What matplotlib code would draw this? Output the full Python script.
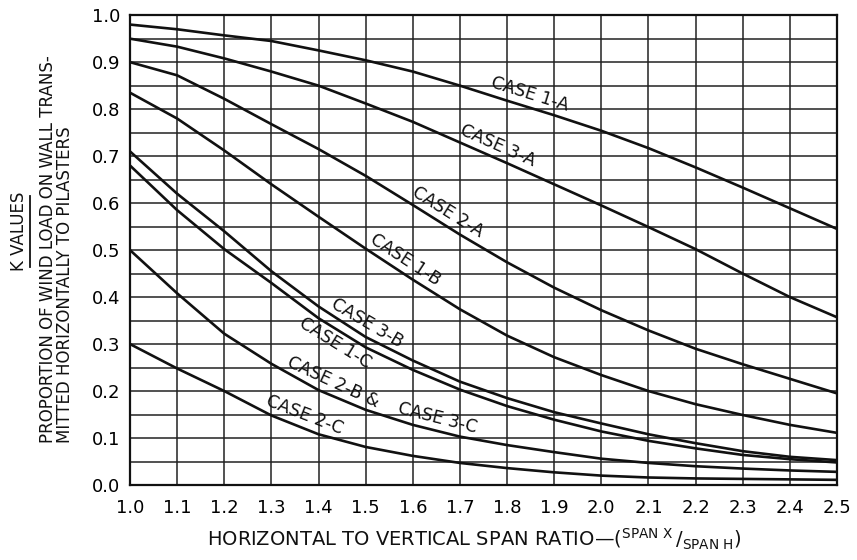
import numpy as np
import matplotlib
matplotlib.use("Agg")
import matplotlib.pyplot as plt

# span ratio (x) and K values
ratio = [1.0, 1.1, 1.2, 1.3, 1.4, 1.5, 1.6, 1.7, 1.8, 1.9, 2.0, 2.1, 2.2, 2.3, 2.4, 2.5]

case_1a = [0.980, 0.970, 0.957, 0.945, 0.925, 0.904, 0.880, 0.850, 0.818, 0.787, 0.754, 0.717, 0.676, 0.633, 0.589, 0.545]
case_3a = [0.950, 0.933, 0.908, 0.880, 0.850, 0.812, 0.773, 0.729, 0.685, 0.640, 0.595, 0.549, 0.502, 0.450, 0.400, 0.357]
case_2a = [0.900, 0.872, 0.822, 0.768, 0.715, 0.658, 0.596, 0.533, 0.474, 0.420, 0.372, 0.329, 0.290, 0.257, 0.226, 0.195]
case_1b = [0.835, 0.780, 0.712, 0.640, 0.571, 0.503, 0.437, 0.374, 0.318, 0.272, 0.234, 0.200, 0.172, 0.149, 0.128, 0.111]
case_3b = [0.710, 0.620, 0.540, 0.455, 0.380, 0.315, 0.265, 0.220, 0.185, 0.155, 0.131, 0.108, 0.089, 0.072, 0.060, 0.053]
case_1c = [0.680, 0.585, 0.502, 0.430, 0.355, 0.293, 0.245, 0.203, 0.168, 0.139, 0.114, 0.094, 0.078, 0.064, 0.055, 0.048]
case_2b_3c = [0.500, 0.408, 0.322, 0.258, 0.202, 0.160, 0.128, 0.103, 0.085, 0.070, 0.056, 0.047, 0.040, 0.035, 0.031, 0.028]
case_2c = [0.300, 0.248, 0.200, 0.148, 0.108, 0.081, 0.062, 0.047, 0.036, 0.027, 0.020, 0.016, 0.014, 0.013, 0.012, 0.011]

x_ticks = ["1.0", "1.1", "1.2", "1.3", "1.4", "1.5", "1.6", "1.7", "1.8", "1.9",
           "2.0", "2.1", "2.2", "2.3", "2.4", "2.5"]
y_ticks = ["0.0", "0.1", "0.2", "0.3", "0.4", "0.5", "0.6", "0.7", "0.8", "0.9", "1.0"]

# label text, curve, x position along the curve, side (+1 above, -1 below)
labels = [
    ("CASE 1-A", case_1a, 1.84, 1),
    ("CASE 3-A", case_3a, 1.77, 1),
    ("CASE 2-A", case_2a, 1.66, 1),
    ("CASE 1-B", case_1b, 1.57, 1),
    ("CASE 3-B", case_3b, 1.49, 1),
    ("CASE 1-C", case_1c, 1.45, -1),
    ("CASE 2-B &", case_2b_3c, 1.42, 1),
    ("CASE 3-C", case_2b_3c, 1.645, 1),
    ("CASE 2-C", case_2c, 1.36, 1),
]

INK = "#111111"

fig = plt.figure(figsize=(8.57, 5.6), dpi=100)
ax = fig.add_axes([0.1517, 0.1339, 0.825, 0.839])

for ys in [case_1a, case_3a, case_2a, case_1b, case_3b, case_1c, case_2b_3c, case_2c]:
    ax.plot(ratio, ys, color=INK, linewidth=1.9, solid_joinstyle="round", zorder=3)

ax.set_xlim(1.0, 2.5)
ax.set_ylim(0.0, 1.0)
ax.set_xticks(np.arange(len(x_ticks)) * 0.1 + 1.0)
ax.set_xticklabels(x_ticks, fontsize=13)
ax.set_yticks(np.arange(len(y_ticks)) * 0.1)
ax.set_yticklabels(y_ticks, fontsize=13)
ax.set_yticks(np.arange(0.05, 1.0, 0.1), minor=True)
ax.tick_params(which="both", length=0)
ax.tick_params(axis="x", pad=10)
ax.tick_params(axis="y", pad=7)
ax.grid(which="major", color="#222222", linewidth=1.1)
ax.grid(which="minor", axis="y", color="#222222", linewidth=1.1)
for s in ax.spines.values():
    s.set_linewidth(1.6)
    s.set_color(INK)

fig.canvas.draw()
for text, ys, xc, side in labels:
    yc = np.interp(xc, ratio, ys)
    p0 = ax.transData.transform((xc - 0.05, np.interp(xc - 0.05, ratio, ys)))
    p1 = ax.transData.transform((xc + 0.05, np.interp(xc + 0.05, ratio, ys)))
    ang = np.degrees(np.arctan2(p1[1] - p0[1], p1[0] - p0[0]))
    th = np.radians(ang)
    gap = 2.5 * side
    ax.annotate(text, (xc, yc), xytext=(-np.sin(th) * gap, np.cos(th) * gap),
                textcoords="offset points", rotation=ang, rotation_mode="anchor",
                ha="center", va="bottom" if side > 0 else "top",
                fontsize=12.5, color=INK, zorder=4)

# axis titles
fig.text(0.553, 0.036,
         "HORIZONTAL TO VERTICAL SPAN RATIO\u2014("
         + r"$^{\mathrm{SPAN\ X}}\,/_{\mathrm{SPAN\ H}}$" + ")",
         ha="center", va="center", fontsize=14, color=INK)

fig.text(19 / 857, 1 - 231 / 560, "K VALUES", rotation=90,
         ha="center", va="center", fontsize=12, color=INK)
fig.add_artist(plt.Line2D([30 / 857, 30 / 857], [1 - 267 / 560, 1 - 196 / 560],
                          color=INK, linewidth=1.3))
fig.text(48 / 857, 1 - 443 / 560, "PROPORTION OF WIND LOAD ON WALL TRANS-",
         rotation=90, ha="center", va="bottom", fontsize=12, color=INK)
fig.text(65 / 857, 1 - 443 / 560, "MITTED HORIZONTALLY TO PILASTERS",
         rotation=90, ha="center", va="bottom", fontsize=12, color=INK)

plt.savefig("out.png", dpi=100, facecolor="white")
plt.close()
